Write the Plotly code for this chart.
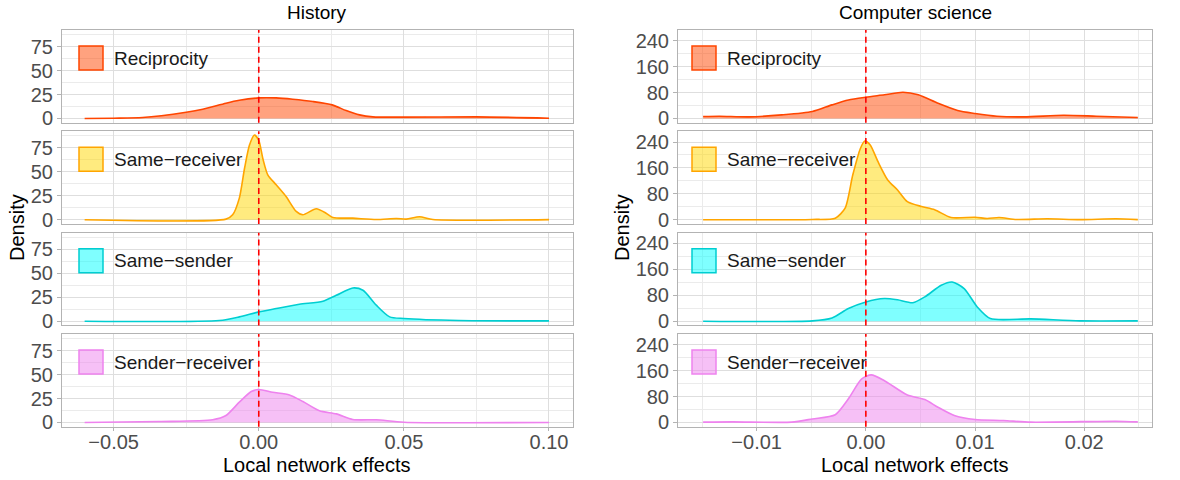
import plotly.graph_objects as go
from plotly.subplots import make_subplots

W, H = 1180, 480

fields = ["History", "Computer science"]
effects = ["Reciprocity", "Same\u2212receiver", "Same\u2212sender", "Sender\u2212receiver"]

# ---------- History densities ----------
hist_recip_x = [-0.06, -0.05, -0.04, -0.025, -0.0193, -0.0113, -0.0067, 0.0, 0.006, 0.0117, 0.0186, 0.0253, 0.0301, 0.0347, 0.0393, 0.05, 0.075, 0.10]
hist_recip_y = [0.0, 0.3, 1.0, 6.6, 9.7, 16.0, 19.0, 21.5, 21.5, 20.1, 17.7, 14.2, 8.3, 3.8, 1.7, 1.4, 1.7, 0.3]

hist_srec_x = [-0.06, -0.0113, -0.009, -0.0067, -0.0049, -0.0032, -0.0015, 0.0, 0.0014, 0.0031, 0.006, 0.0094, 0.0129, 0.0152, 0.0198, 0.0232, 0.0255, 0.0324, 0.0405, 0.0474, 0.0508, 0.0554, 0.06, 0.10]
hist_srec_y = [0.0, 0.7, 5.2, 22.6, 53.8, 78.0, 88.5, 83.0, 64.0, 47.0, 36.5, 24.3, 8.7, 5.2, 11.5, 6.9, 2.4, 1.7, 0.3, 1.4, 0.7, 3.1, 0.3, 0.2]

hist_ssnd_x = [-0.06, -0.0136, -0.0067, 0.0, 0.006, 0.014, 0.0221, 0.0267, 0.0324, 0.0359, 0.0405, 0.0451, 0.05, 0.069, 0.10]
hist_ssnd_y = [0.0, 0.7, 4.5, 9.7, 13.2, 17.7, 20.8, 27.0, 34.7, 32.3, 16.7, 4.5, 2.8, 0.7, 0.3]

hist_sr_x = [-0.06, -0.0343, -0.0159, -0.0113, -0.0067, -0.0026, 0.0, 0.0048, 0.0106, 0.0152, 0.0209, 0.0267, 0.0324, 0.0405, 0.05, 0.10]
hist_sr_y = [0.0, 1.0, 2.8, 7.3, 21.2, 32.3, 34.4, 31.6, 28.8, 21.9, 12.2, 9.0, 3.1, 2.8, 0.3, 0.0]

# ---------- Computer science densities ----------
cs_recip_x = [-0.0149, -0.0134, -0.0107, -0.0077, -0.0049, -0.0031, -0.0016, 0.0, 0.0017, 0.0034, 0.0048, 0.0066, 0.0084, 0.01, 0.012, 0.0145, 0.0181, 0.0211, 0.0249]
cs_recip_y = [6.0, 7.0, 5.0, 11.0, 21.5, 42.0, 57.0, 65.6, 73.0, 81.0, 73.0, 47.0, 24.6, 15.4, 7.0, 5.0, 10.0, 7.0, 3.0]

cs_srec_x = [-0.0149, -0.0049, -0.0028, -0.0019, -0.0012, -0.0005, -0.0001, 0.0004, 0.0011, 0.002, 0.0029, 0.0038, 0.0051, 0.0063, 0.0078, 0.01, 0.0111, 0.0122, 0.0138, 0.0166, 0.0196, 0.0229, 0.0249]
cs_srec_y = [0.0, 1.0, 5.0, 36.0, 138.0, 220.0, 243.0, 231.0, 180.0, 123.0, 92.0, 56.0, 41.0, 31.0, 7.0, 8.0, 4.0, 7.0, 1.0, 3.0, 0.5, 3.0, 0.5]

cs_ssnd_x = [-0.0149, -0.0049, -0.0031, -0.0016, 0.0, 0.0017, 0.0029, 0.0043, 0.0054, 0.0069, 0.0079, 0.009, 0.0102, 0.0114, 0.0151, 0.0196, 0.0249]
cs_ssnd_y = [0.0, 1.0, 10.0, 39.0, 59.5, 70.0, 66.0, 57.0, 75.0, 111.0, 121.0, 100.5, 44.0, 8.0, 7.0, 1.0, 1.0]

cs_sr_x = [-0.0149, -0.0122, -0.0068, -0.0049, -0.0028, -0.0016, -0.0004, 0.0005, 0.0017, 0.0038, 0.0054, 0.0066, 0.0081, 0.01, 0.0126, 0.0151, 0.0229, 0.0249]
cs_sr_y = [1.0, 2.0, 1.0, 11.0, 24.0, 73.0, 134.0, 147.0, 129.0, 85.0, 71.0, 47.0, 21.5, 9.0, 6.0, 1.0, 4.0, 2.0]

# ---------- ticks ----------
hist_xticks = [-0.05, 0.0, 0.05, 0.10]
hist_xticklabels = ["\u22120.05", "0.00", "0.05", "0.10"]
cs_xticks = [-0.01, 0.0, 0.01, 0.02]
cs_xticklabels = ["\u22120.01", "0.00", "0.01", "0.02"]
hist_yticks = [0, 25, 50, 75]
cs_yticks = [0, 80, 160, 240]

hist_xrange = [-0.0678, 0.1081]
cs_xrange = [-0.0172, 0.0262]
hist_yrange = [-4.4, 92.4]
cs_yrange = [-13, 273]

line_colors = ["#FF4500", "#FFA500", "#00CED1", "#EE82EE"]
fill_colors = ["rgba(255,69,0,0.5)", "rgba(255,215,0,0.5)", "rgba(0,255,255,0.5)", "rgba(238,130,238,0.5)"]

hist_data = [(hist_recip_x, hist_recip_y), (hist_srec_x, hist_srec_y), (hist_ssnd_x, hist_ssnd_y), (hist_sr_x, hist_sr_y)]
cs_data = [(cs_recip_x, cs_recip_y), (cs_srec_x, cs_srec_y), (cs_ssnd_x, cs_ssnd_y), (cs_sr_x, cs_sr_y)]

FONT = "Liberation Sans, Arial, sans-serif"

# panel geometry in pixels
col_px = [(62, 572.5), (678, 1152)]
row_px = [(30, 122.7), (131.3, 224), (232.7, 325.4), (334, 426.7)]

def px_x(p):
    return p / W

def px_y(p):
    return 1 - p / H

fig = make_subplots(rows=4, cols=2)

shapes = []
annotations = []

for c in range(2):
    data = hist_data if c == 0 else cs_data
    for r in range(4):
        idx = r * 2 + c + 1
        xs, ys = data[r]
        fig.add_trace(go.Scatter(
            x=xs, y=ys, mode="lines", fill="tozeroy",
            fillcolor=fill_colors[r],
            line=dict(color=line_colors[r], width=1.6, shape="spline", smoothing=0.7),
            showlegend=False, hoverinfo="skip"), row=r + 1, col=c + 1)
        xname = "xaxis" if idx == 1 else f"xaxis{idx}"
        yname = "yaxis" if idx == 1 else f"yaxis{idx}"
        bottom = (r == 3)
        xa = dict(
            domain=[px_x(col_px[c][0]), px_x(col_px[c][1])],
            range=hist_xrange if c == 0 else cs_xrange,
            tickvals=hist_xticks if c == 0 else cs_xticks,
            ticktext=hist_xticklabels if c == 0 else cs_xticklabels,
            showticklabels=bottom,
            ticks="outside" if bottom else "",
            ticklen=3, tickcolor="#B3B3B3", tickwidth=1,
            tickfont=dict(size=20, color="#4D4D4D", family=FONT),
            showgrid=True, gridcolor="#DEDEDE", gridwidth=1,
            minor=dict(dtick=(0.025 if c == 0 else 0.005), showgrid=True, gridcolor="#EBEBEB", gridwidth=0.7,
                       tick0=0),
            zeroline=False, showline=True, mirror=True, linecolor="#B3B3B3", linewidth=1,
            automargin=False,
        )
        ya = dict(
            domain=[px_y(row_px[r][1]), px_y(row_px[r][0])],
            range=hist_yrange if c == 0 else cs_yrange,
            tickvals=hist_yticks if c == 0 else cs_yticks,
            ticks="outside", ticklen=4, tickcolor="#B3B3B3", tickwidth=1,
            tickfont=dict(size=20, color="#4D4D4D", family=FONT),
            showgrid=True, gridcolor="#DEDEDE", gridwidth=1,
            minor=dict(dtick=(12.5 if c == 0 else 40), tick0=0, showgrid=True, gridcolor="#EBEBEB", gridwidth=0.7),
            zeroline=False, showline=True, mirror=True, linecolor="#B3B3B3", linewidth=1,
            automargin=False,
        )
        fig.layout[xname].update(xa)
        fig.layout[yname].update(ya)

        xref = "x" if idx == 1 else f"x{idx}"
        yref = "y" if idx == 1 else f"y{idx}"
        # dashed zero line
        shapes.append(dict(type="line", xref=xref, yref=f"{yref} domain", x0=0, x1=0, y0=0, y1=1,
                           line=dict(color="#FF0000", width=1.6, dash="6px,4px"), layer="above"))
        # legend key
        top = row_px[r][0]
        kx0 = col_px[c][0] + (17 if c == 0 else 14)
        shapes.append(dict(type="rect", xref="paper", yref="paper",
                           x0=px_x(kx0), x1=px_x(kx0 + 24), y0=px_y(top + 40), y1=px_y(top + 16),
                           fillcolor=fill_colors[r], line=dict(color=line_colors[r], width=1.5), layer="above"))
        annotations.append(dict(xref="paper", yref="paper", x=px_x(kx0 + 33), y=px_y(top + 28),
                                text=effects[r], showarrow=False, xanchor="left", yanchor="middle",
                                font=dict(size=19, color="#1A1A1A", family=FONT)))

    # column title
    cx = (col_px[c][0] + col_px[c][1]) / 2
    annotations.append(dict(xref="paper", yref="paper", x=px_x(cx), y=px_y(12), text=fields[c],
                            showarrow=False, xanchor="center", yanchor="middle",
                            font=dict(size=19, color="#000000", family=FONT)))
    # x title
    annotations.append(dict(xref="paper", yref="paper", x=px_x(cx), y=px_y(465), text="Local network effects",
                            showarrow=False, xanchor="center", yanchor="middle",
                            font=dict(size=20, color="#000000", family=FONT)))
    # y title
    annotations.append(dict(xref="paper", yref="paper", x=px_x(17 if c == 0 else 622), y=px_y(228), text="Density",
                            showarrow=False, xanchor="center", yanchor="middle", textangle=-90,
                            font=dict(size=20, color="#000000", family=FONT)))

fig.update_layout(
    width=W, height=H,
    margin=dict(l=0, r=0, t=0, b=0, autoexpand=False),
    paper_bgcolor="white", plot_bgcolor="white",
    shapes=shapes, annotations=annotations,
    showlegend=False,
    font=dict(family=FONT),
)
fig.update_xaxes(ticklabelstandoff=-6)

fig.write_html("out.html", config={"displayModeBar": False},
               post_script="document.body.style.margin='0px';document.body.style.overflow='hidden';")
